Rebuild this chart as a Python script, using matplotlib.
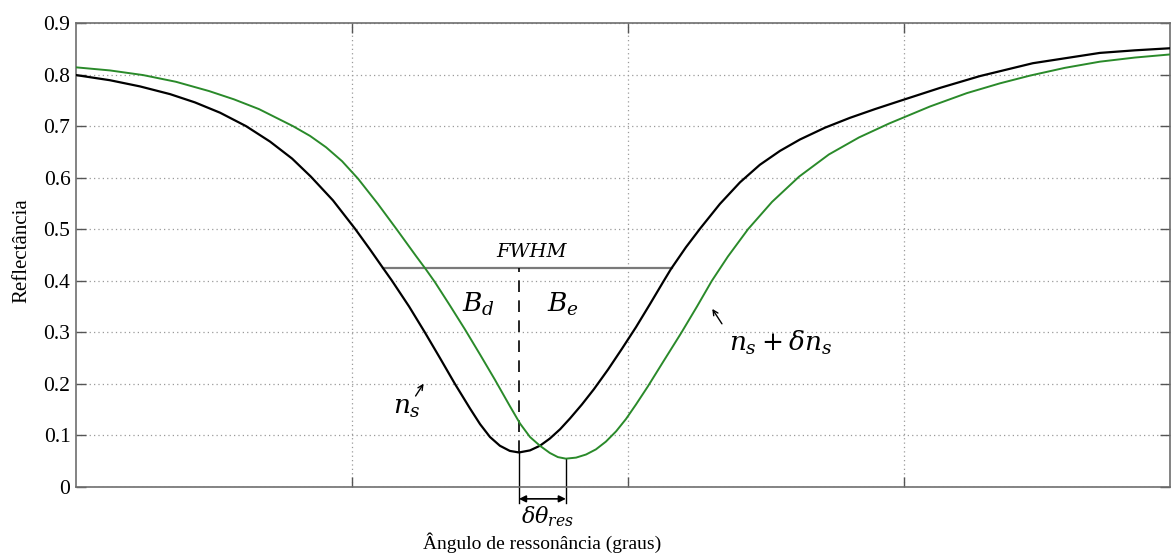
import numpy as np
import matplotlib
matplotlib.use("Agg")
import matplotlib.pyplot as plt

# ---- data ----
angle_ns = [0.000, 0.123, 0.232, 0.341, 0.431, 0.522, 0.616, 0.703, 0.783, 0.851,
            0.931, 1.011, 1.065, 1.112, 1.145, 1.207, 1.264, 1.319, 1.373, 1.428,
            1.464, 1.500, 1.536, 1.572, 1.605, 1.645, 1.681, 1.717, 1.754, 1.790,
            1.833, 1.877, 1.928, 1.978, 2.029, 2.080, 2.130, 2.156, 2.210, 2.264,
            2.333, 2.406, 2.478, 2.551, 2.623, 2.714, 2.804, 2.895, 2.986, 3.130,
            3.275, 3.467, 3.710, 3.837, 3.964]
refl_ns = [0.799, 0.789, 0.777, 0.762, 0.746, 0.726, 0.700, 0.670, 0.637, 0.602,
           0.556, 0.501, 0.461, 0.425, 0.400, 0.350, 0.300, 0.250, 0.200, 0.152,
           0.122, 0.097, 0.080, 0.070, 0.067, 0.071, 0.080, 0.094, 0.112, 0.133,
           0.160, 0.190, 0.228, 0.268, 0.310, 0.355, 0.400, 0.423, 0.465, 0.503,
           0.549, 0.591, 0.625, 0.652, 0.674, 0.697, 0.716, 0.733, 0.749, 0.774,
           0.797, 0.822, 0.842, 0.847, 0.851]

angle_nsd = [0.000, 0.123, 0.243, 0.362, 0.482, 0.572, 0.663, 0.786, 0.848, 0.906,
             0.964, 1.022, 1.094, 1.163, 1.232, 1.268, 1.301, 1.355, 1.409, 1.464,
             1.518, 1.572, 1.609, 1.645, 1.681, 1.717, 1.746, 1.775, 1.812, 1.848,
             1.884, 1.920, 1.957, 1.993, 2.029, 2.072, 2.130, 2.192, 2.250, 2.304,
             2.362, 2.435, 2.522, 2.620, 2.728, 2.837, 2.946, 3.094, 3.228, 3.348,
             3.457, 3.583, 3.710, 3.837, 3.964]
refl_nsd = [0.814, 0.808, 0.799, 0.786, 0.768, 0.752, 0.733, 0.700, 0.681, 0.659,
            0.632, 0.598, 0.549, 0.499, 0.448, 0.422, 0.397, 0.352, 0.306, 0.257,
            0.208, 0.157, 0.123, 0.097, 0.080, 0.066, 0.058, 0.055, 0.057, 0.063,
            0.073, 0.088, 0.108, 0.132, 0.160, 0.195, 0.245, 0.298, 0.350, 0.400,
            0.447, 0.500, 0.553, 0.602, 0.645, 0.678, 0.705, 0.738, 0.764, 0.783,
            0.798, 0.813, 0.825, 0.833, 0.839]

y_ticks = [0, 0.1, 0.2, 0.3, 0.4, 0.5, 0.6, 0.7, 0.8, 0.9]
y_ticklabels = ["0", "0.1", "0.2", "0.3", "0.4", "0.5", "0.6", "0.7", "0.8", "0.9"]
x_ticks = [1, 2, 3]

fwhm_level = 0.425
fwhm_left, fwhm_right = 1.112, 2.158

serif = ["Liberation Serif", "DejaVu Serif"]
plt.rcParams["mathtext.fontset"] = "dejavuserif"

fig = plt.figure(figsize=(11.72, 5.53), dpi=100)
ax = fig.add_axes([76 / 1172, 66 / 553, 1094 / 1172, 464 / 553])

green = "#2a8a2a"
ax.plot(angle_ns, refl_ns, color="black", lw=1.6, zorder=3, solid_joinstyle="round")
ax.plot(angle_nsd, refl_nsd, color=green, lw=1.4, zorder=3, solid_joinstyle="round")

ax.set_xlim(0, 3.964)
ax.set_ylim(0, 0.9)
ax.set_yticks(y_ticks)
ax.set_yticklabels(y_ticklabels, fontfamily=serif, fontsize=15.5)
ax.set_xticks(x_ticks)
ax.set_xticklabels([])
ax.tick_params(direction="in", length=7, width=1, color="#555555",
               top=True, right=True, pad=4)
ax.grid(True, linestyle=(0, (1, 2.5)), color="#9a9a9a", lw=0.9)
for s in ax.spines.values():
    s.set_color("#6e6e6e")
    s.set_linewidth(1.2)

# minima of the two curves
i1 = int(np.argmin(refl_ns))
i2 = int(np.argmin(refl_nsd))
x1, y1 = angle_ns[i1], refl_ns[i1]
x2, y2 = angle_nsd[i2], refl_nsd[i2]

# FWHM line
ax.plot([fwhm_left, fwhm_right], [fwhm_level, fwhm_level], color="#7a7a7a", lw=1.6, zorder=2)
ax.text(1.65, 0.455, "FWHM", ha="center", va="center",
        fontfamily="DejaVu Serif", style="italic", fontsize=14)
# dashed vertical at resonance
ax.plot([x1, x1], [y1, fwhm_level], color="black", lw=1.2, ls=(0, (7, 5)), zorder=2)
ax.plot([x1, x1], [-0.032, y1], color="black", lw=1.0, clip_on=False, zorder=2)
ax.plot([x2, x2], [-0.032, y2], color="black", lw=1.0, clip_on=False, zorder=2)
ax.annotate("", xy=(x1, -0.023), xytext=(x2, -0.023),
            arrowprops=dict(arrowstyle="<|-|>", color="black", lw=1.2,
                            mutation_scale=10, shrinkA=0, shrinkB=0),
            annotation_clip=False)
ax.text((x1 + x2) / 2 + 0.02, -0.058, r"$\delta\theta_{res}$", ha="center", va="center",
        fontsize=16, clip_on=False)

ax.text(1.46, 0.355, r"$B_d$", ha="center", va="center", fontsize=19)
ax.text(1.765, 0.355, r"$B_e$", ha="center", va="center", fontsize=19)

ax.text(1.20, 0.155, r"$n_s$", ha="center", va="center", fontsize=19)
ax.annotate("", xy=(1.265, 0.205), xytext=(1.225, 0.172),
            arrowprops=dict(arrowstyle="->", color="black", lw=1.0, mutation_scale=9))
ax.text(2.554, 0.279, r"$n_s + \delta n_s$", ha="center", va="center", fontsize=19)
ax.annotate("", xy=(2.30, 0.35), xytext=(2.346, 0.312),
            arrowprops=dict(arrowstyle="->", color="black", lw=1.0, mutation_scale=9))

fig.text(22 / 1172, 1 - 251 / 553, "Reflectância", rotation=90, ha="center", va="center",
         fontfamily=serif, fontsize=15)
fig.text(542 / 1172, 1 - 543 / 553, "Ângulo de ressonância (graus)", ha="center", va="center",
         fontfamily=serif, fontsize=14)

fig.savefig("out.png", dpi=100)
